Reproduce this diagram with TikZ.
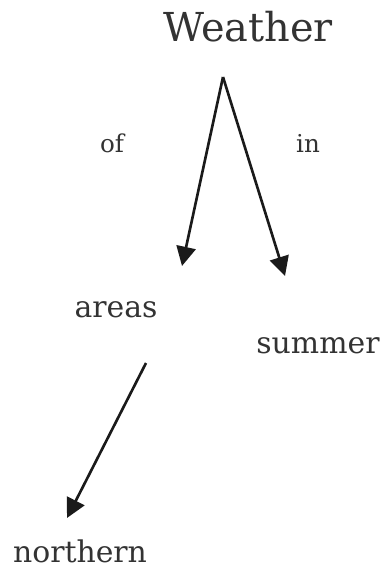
\documentclass[tikz,border=0pt]{standalone}
\usepackage{fontspec}
\setmainfont{DejaVu Serif}
\usepackage{xcolor}
\definecolor{inkgray}{HTML}{333333}
\definecolor{arrowblack}{HTML}{1a1a1a}
\usetikzlibrary{arrows.meta, positioning}

\begin{document}
\begin{tikzpicture}[
  x=0.02cm, y=-0.02cm,
  word/.style={inner sep=0pt, anchor=base, text=inkgray, font=\fontsize{17}{20}\selectfont},
  rel/.style={inner sep=0pt, anchor=base, text=inkgray, font=\fontsize{14}{17}\selectfont},
  link/.style={-{Triangle[length=11pt, width=11pt]}, line width=1.5pt, arrowblack}
]
\useasboundingbox (0,0) rectangle (389,588);

\node[word, font=\fontsize{22.7}{27}\selectfont] (weather) at (248, 42) {Weather};
\node[word] (areas) at (116, 317) {areas};
\node[word] (summer) at (318, 353) {summer};
\node[word] (northern) at (80, 562) {northern};

\node[rel] (of) at (112, 153) {of};
\node[rel] (in) at (308, 153) {in};

\coordinate (apex) at (223, 77);
\coordinate (areastip) at (182, 266);
\coordinate (summertip) at (285, 276);
\coordinate (areasfoot) at (146, 363);
\coordinate (northerntip) at (67, 518);

\draw[link] (apex) -- (areastip);
\draw[link] (apex) -- (summertip);
\draw[link] (areasfoot) -- (northerntip);
\end{tikzpicture}
\end{document}
